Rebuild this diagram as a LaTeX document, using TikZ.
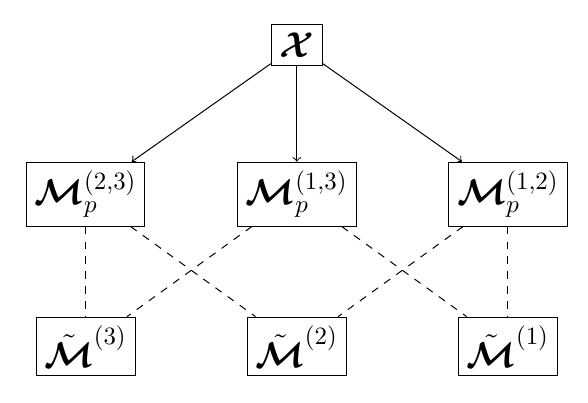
\documentclass[tikz,border=0pt]{standalone}
\usepackage{amsmath}
\usepackage{bm}
\usetikzlibrary{positioning}

\begin{document}
\begin{tikzpicture}[box/.style={draw,rectangle,font=\Large}]
\useasboundingbox (-4.19,0.64) rectangle (4.11,-5.04);
\node[box](x){$\bm{\mathcal{X}}$};
\node[box, on grid, below=2.1cm of x](m13){$\bm{\mathcal{M}}_p^{(1,3)}$};
\node[box, on grid, left=2.98cm of m13](m23){$\bm{\mathcal{M}}_p^{(2,3)}$};
\node[box, on grid, right=2.98cm of m13](m12){$\bm{\mathcal{M}}_p^{(1,2)}$};
\node[box, on grid, below=2.15cm of m23](t3){$\tilde{\bm{\mathcal{M}}}^{(3)}$};
\node[box, on grid, below=2.15cm of m13](t2){$\tilde{\bm{\mathcal{M}}}^{(2)}$};
\node[box, on grid, below=2.15cm of m12](t1){$\tilde{\bm{\mathcal{M}}}^{(1)}$};
\draw[->] (x) -- (m23);
\draw[->] (x) -- (m13);
\draw[->] (x) -- (m12);
\draw[dashed] (m23) -- (t3);
\draw[dashed] (m23) -- (t2);
\draw[dashed] (m13) -- (t3);
\draw[dashed] (m13) -- (t1);
\draw[dashed] (m12) -- (t2);
\draw[dashed] (m12) -- (t1);
\end{tikzpicture}
\end{document}
